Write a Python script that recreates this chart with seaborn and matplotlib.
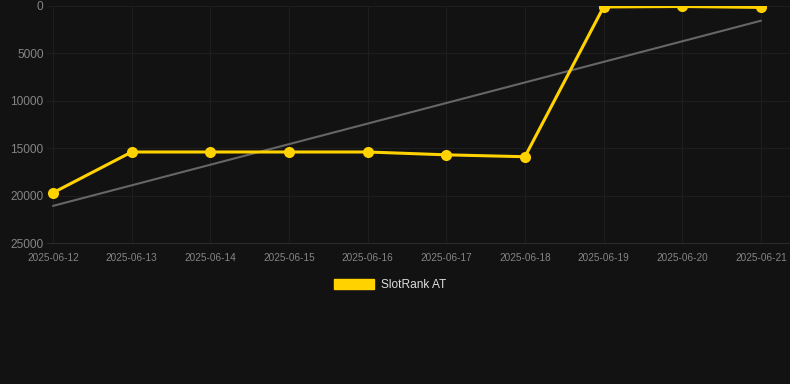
import matplotlib
matplotlib.use("Agg")
import matplotlib.pyplot as plt
import seaborn as sns
import numpy as np
import pandas as pd
from matplotlib.patches import Patch

dates = ["2025-06-12", "2025-06-13", "2025-06-14", "2025-06-15", "2025-06-16",
         "2025-06-17", "2025-06-18", "2025-06-19", "2025-06-20", "2025-06-21"]
ranks = [19700, 15400, 15400, 15400, 15400, 15700, 15900, 100, 50, 150]
y_ticks = [0, 5000, 10000, 15000, 20000, 25000]
series_name = "SlotRank AT"

sns.set_theme(style="dark")
plt.rcParams['font.family'] = ['Liberation Sans', 'DejaVu Sans']

bg = "#121212"
grid_c = "#1e1e1e"
yellow = "#FFD200"

df = pd.DataFrame({"date": pd.to_datetime(dates), "rank": ranks})
xnum = np.arange(len(df))
coef = np.polyfit(xnum, df["rank"].values, 1)
df["trend"] = np.polyval(coef, xnum)

fig = plt.figure(figsize=(7.9, 3.84), dpi=100, facecolor=bg)
ax = fig.add_axes([47 / 790, 1 - 243 / 384, 743 / 790, 237 / 384])
ax.set_facecolor(bg)

sns.lineplot(data=df, x="date", y="trend", ax=ax, color="#666666", linewidth=1.5, legend=False)
sns.lineplot(data=df, x="date", y="rank", ax=ax, color=yellow, linewidth=2.2,
             marker="o", markersize=8, markeredgewidth=0, legend=False)

d0 = df["date"].iloc[0]
ax.set_xlim(d0 - pd.Timedelta(days=0.076), d0 + pd.Timedelta(days=9.37))
ax.set_ylim(25000, 0)
ax.set_xticks(df["date"])
ax.set_xticklabels(dates)
ax.set_yticks(y_ticks)
ax.set_yticklabels([str(v) for v in y_ticks])
ax.grid(True, color=grid_c, linewidth=0.8)
ax.tick_params(axis="x", colors="#2a2a2a", labelcolor="#858585", labelsize=7.2, length=4, pad=3)
ax.tick_params(axis="y", colors=grid_c, labelcolor="#858585", labelsize=8.6, length=0, pad=2.5)
ax.set_xlabel("")
ax.set_ylabel("")
for s in ax.spines.values():
    s.set_visible(False)
ax.spines["bottom"].set_visible(True)
ax.spines["bottom"].set_color("#2a2a2a")
ax.spines["bottom"].set_linewidth(0.8)

handle = Patch(facecolor=yellow, edgecolor=yellow, label=series_name)
fig.legend(handles=[handle], loc="center", bbox_to_anchor=(390 / 790, 1 - 285 / 384),
           frameon=False, fontsize=8.6, labelcolor="#dddddd", handlelength=3.3,
           handleheight=1.0, handletextpad=0.6)

fig.savefig("out.png", dpi=100, facecolor=bg)
